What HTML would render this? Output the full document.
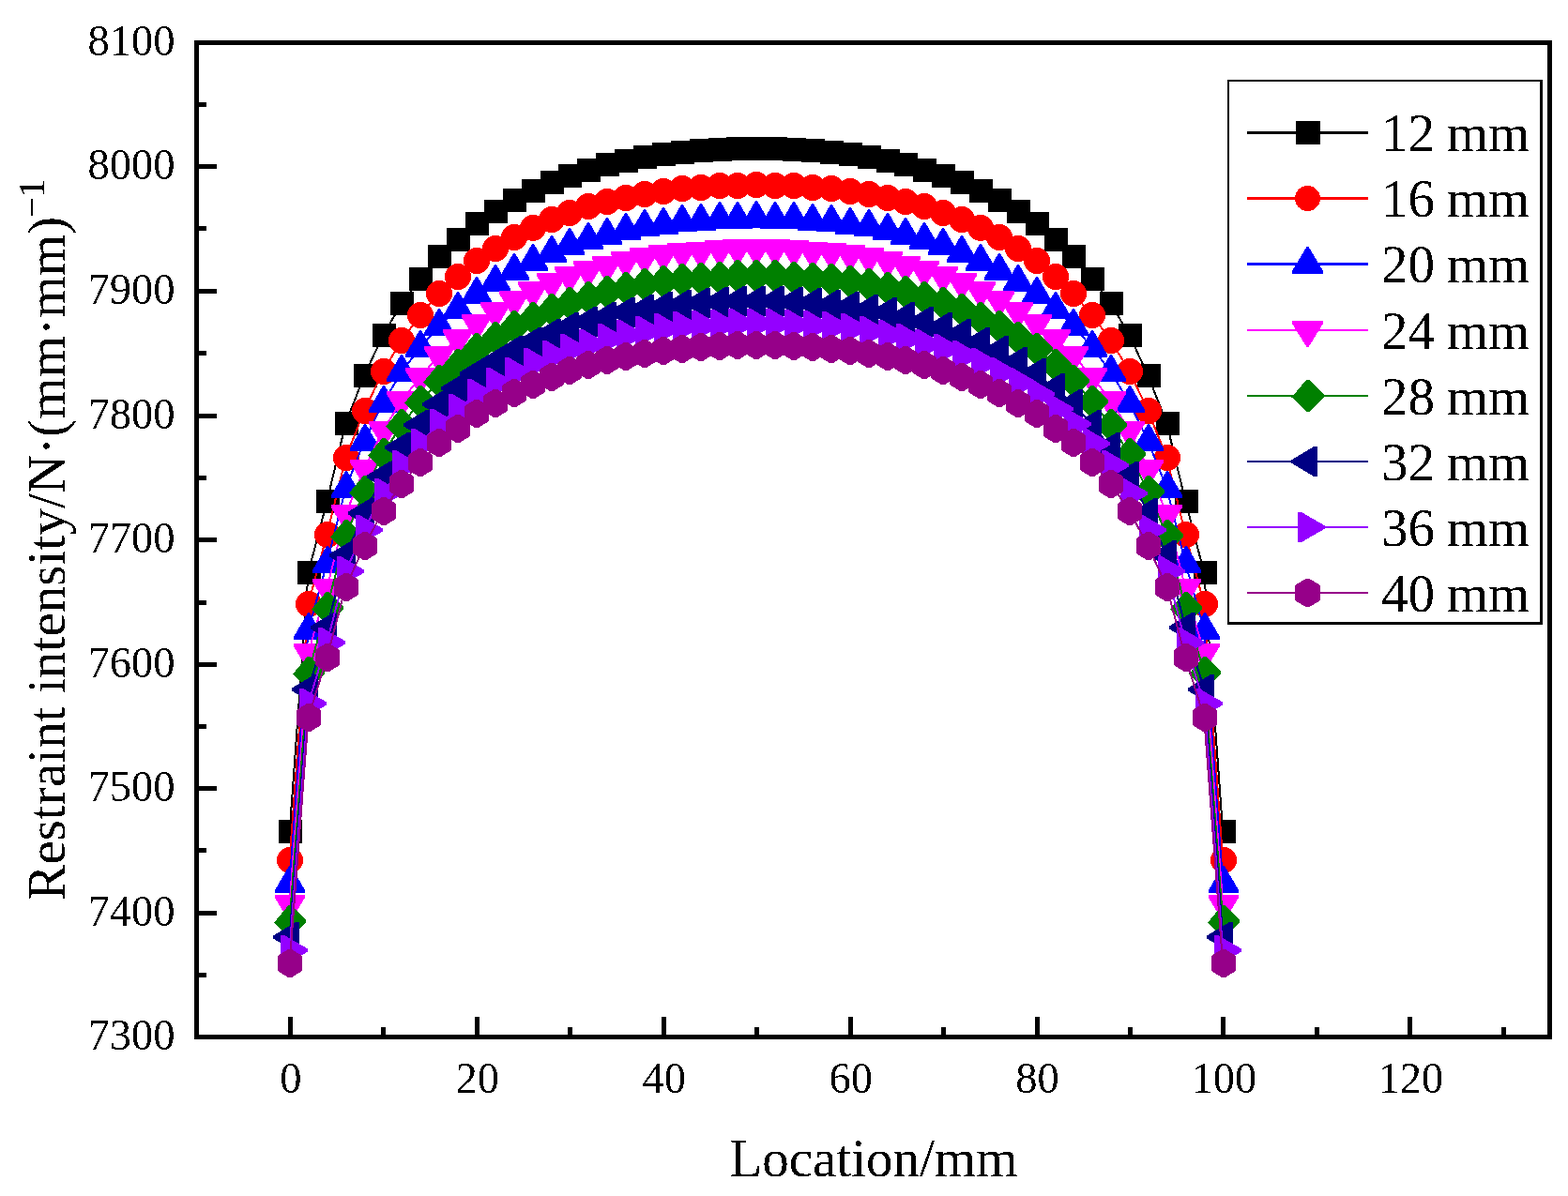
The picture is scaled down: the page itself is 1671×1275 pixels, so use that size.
<!DOCTYPE html>
<html lang="en">
<head>
<meta charset="utf-8">
<title>Restraint intensity vs. location</title>
<style>
html,body{margin:0;padding:0;background:#fff;}
body{width:1671px;height:1275px;overflow:hidden;}
svg{display:block;}
text{font-family:"Liberation Serif","Times New Roman",serif;fill:#000;font-kerning:none;font-variant-ligatures:none;}
.tick{font-size:46.5px;}
.ttl{font-size:57px;}
.leg{font-size:57px;}
.ln{fill:none;stroke-width:2;stroke-linejoin:round;stroke-linecap:butt;}
</style>
</head>
<body>
<svg width="1671" height="1275" viewBox="0 0 1671 1275">
<rect width="1671" height="1275" fill="#fff"/>
<defs><filter id="bin" filterUnits="userSpaceOnUse" x="0" y="0" width="1671" height="1275" color-interpolation-filters="sRGB"><feComponentTransfer><feFuncA type="discrete" tableValues="0 1"/></feComponentTransfer></filter></defs>
<g shape-rendering="crispEdges">
<polyline class="ln" stroke="#000000" points="308.65,886.5 328.54,610.5 348.43,534.5 368.32,451.5 388.21,400.5 408.1,357.5 427.99,323.5 447.88,297.5 467.77,273.5 487.66,255.5 507.54,238.5 527.43,225.5 547.32,213.5 567.21,203.5 587.1,194.5 606.99,187.5 626.88,181.5 646.77,175.5 666.66,171.5 686.55,167.5 706.44,164.5 726.33,162.5 746.22,160.5 766.11,159.5 786,158.5 805.89,158.5 825.78,158.5 845.67,159.5 865.56,160.5 885.45,162.5 905.34,164.5 925.23,167.5 945.12,171.5 965.01,175.5 984.9,181.5 1004.79,187.5 1024.68,194.5 1044.57,203.5 1064.46,213.5 1084.34,225.5 1104.23,238.5 1124.12,255.5 1144.01,273.5 1163.9,297.5 1183.79,323.5 1203.68,357.5 1223.57,400.5 1243.46,451.5 1263.35,534.5 1283.24,610.5 1303.13,886.5"/>
<g fill="#000000">
<path d="M297 874h25v25h-25zM317 598h25v25h-25zM337 522h25v25h-25zM357 439h25v25h-25zM377 388h25v25h-25zM397 345h25v25h-25zM416 311h25v25h-25zM436 285h25v25h-25zM456 261h25v25h-25zM476 243h25v25h-25zM496 226h25v25h-25zM516 213h25v25h-25zM536 201h25v25h-25zM556 191h25v25h-25zM576 182h25v25h-25zM595 175h25v25h-25zM615 169h25v25h-25zM635 163h25v25h-25zM655 159h25v25h-25zM675 155h25v25h-25zM695 152h25v25h-25zM715 150h25v25h-25zM735 148h25v25h-25zM755 147h25v25h-25zM774 146h25v25h-25zM794 146h25v25h-25zM814 146h25v25h-25zM834 147h25v25h-25zM854 148h25v25h-25zM874 150h25v25h-25zM894 152h25v25h-25zM914 155h25v25h-25zM934 159h25v25h-25zM953 163h25v25h-25zM973 169h25v25h-25zM993 175h25v25h-25zM1013 182h25v25h-25zM1033 191h25v25h-25zM1053 201h25v25h-25zM1073 213h25v25h-25zM1093 226h25v25h-25zM1113 243h25v25h-25zM1132 261h25v25h-25zM1152 285h25v25h-25zM1172 311h25v25h-25zM1192 345h25v25h-25zM1212 388h25v25h-25zM1232 439h25v25h-25zM1252 522h25v25h-25zM1272 598h25v25h-25zM1292 874h25v25h-25z"/>
</g>
<polyline class="ln" stroke="#ff0000" points="308.65,917 328.54,644 348.43,570 368.32,488 388.21,438 408.1,396 427.99,363 447.88,336 467.77,313 487.66,295 507.54,278 527.43,265 547.32,253 567.21,243 587.1,234 606.99,227 626.88,220 646.77,215 666.66,211 686.55,207 706.44,204 726.33,201 746.22,200 766.11,198 786,198 805.89,197 825.78,198 845.67,198 865.56,200 885.45,201 905.34,204 925.23,207 945.12,211 965.01,215 984.9,220 1004.79,227 1024.68,234 1044.57,243 1064.46,253 1084.34,265 1104.23,278 1124.12,295 1144.01,313 1163.9,336 1183.79,363 1203.68,396 1223.57,438 1243.46,488 1263.35,570 1283.24,644 1303.13,917"/>
<g fill="#ff0000">
<circle cx="309" cy="917" r="14"/><circle cx="329" cy="644" r="14"/><circle cx="349" cy="570" r="14"/><circle cx="369" cy="488" r="14"/><circle cx="389" cy="438" r="14"/><circle cx="409" cy="396" r="14"/><circle cx="428" cy="363" r="14"/><circle cx="448" cy="336" r="14"/><circle cx="468" cy="313" r="14"/><circle cx="488" cy="295" r="14"/><circle cx="508" cy="278" r="14"/><circle cx="528" cy="265" r="14"/><circle cx="548" cy="253" r="14"/><circle cx="568" cy="243" r="14"/><circle cx="588" cy="234" r="14"/><circle cx="607" cy="227" r="14"/><circle cx="627" cy="220" r="14"/><circle cx="647" cy="215" r="14"/><circle cx="667" cy="211" r="14"/><circle cx="687" cy="207" r="14"/><circle cx="707" cy="204" r="14"/><circle cx="727" cy="201" r="14"/><circle cx="747" cy="200" r="14"/><circle cx="767" cy="198" r="14"/><circle cx="786" cy="198" r="14"/><circle cx="806" cy="197" r="14"/><circle cx="826" cy="198" r="14"/><circle cx="846" cy="198" r="14"/><circle cx="866" cy="200" r="14"/><circle cx="886" cy="201" r="14"/><circle cx="906" cy="204" r="14"/><circle cx="926" cy="207" r="14"/><circle cx="946" cy="211" r="14"/><circle cx="965" cy="215" r="14"/><circle cx="985" cy="220" r="14"/><circle cx="1005" cy="227" r="14"/><circle cx="1025" cy="234" r="14"/><circle cx="1045" cy="243" r="14"/><circle cx="1065" cy="253" r="14"/><circle cx="1085" cy="265" r="14"/><circle cx="1105" cy="278" r="14"/><circle cx="1125" cy="295" r="14"/><circle cx="1144" cy="313" r="14"/><circle cx="1164" cy="336" r="14"/><circle cx="1184" cy="363" r="14"/><circle cx="1204" cy="396" r="14"/><circle cx="1224" cy="438" r="14"/><circle cx="1244" cy="488" r="14"/><circle cx="1264" cy="570" r="14"/><circle cx="1284" cy="644" r="14"/><circle cx="1304" cy="917" r="14"/>
</g>
<polyline class="ln" stroke="#0000ff" points="308.65,941.5 328.54,671.5 348.43,600.5 368.32,520.5 388.21,470.5 408.1,429.5 427.99,396.5 447.88,370.5 467.77,347.5 487.66,329.5 507.54,313.5 527.43,300.5 547.32,288.5 567.21,278.5 587.1,269.5 606.99,261.5 626.88,255.5 646.77,250.5 666.66,245.5 686.55,241.5 706.44,239.5 726.33,236.5 746.22,235.5 766.11,233.5 786,233.5 805.89,232.5 825.78,233.5 845.67,233.5 865.56,235.5 885.45,236.5 905.34,239.5 925.23,241.5 945.12,245.5 965.01,250.5 984.9,255.5 1004.79,261.5 1024.68,269.5 1044.57,278.5 1064.46,288.5 1084.34,300.5 1104.23,313.5 1124.12,329.5 1144.01,347.5 1163.9,370.5 1183.79,396.5 1203.68,429.5 1223.57,470.5 1243.46,520.5 1263.35,600.5 1283.24,671.5 1303.13,941.5"/>
<g fill="#0000ff">
<path d="M308 923h2L325 949v3h-32v-3zM328 653h2L345 679v3h-32v-3zM348 582h2L365 608v3h-32v-3zM368 502h2L385 528v3h-32v-3zM388 452h2L405 478v3h-32v-3zM408 411h2L425 437v3h-32v-3zM427 378h2L444 404v3h-32v-3zM447 352h2L464 378v3h-32v-3zM467 329h2L484 355v3h-32v-3zM487 311h2L504 337v3h-32v-3zM507 295h2L524 321v3h-32v-3zM527 282h2L544 308v3h-32v-3zM547 270h2L564 296v3h-32v-3zM567 260h2L584 286v3h-32v-3zM587 251h2L604 277v3h-32v-3zM606 243h2L623 269v3h-32v-3zM626 237h2L643 263v3h-32v-3zM646 232h2L663 258v3h-32v-3zM666 227h2L683 253v3h-32v-3zM686 223h2L703 249v3h-32v-3zM706 221h2L723 247v3h-32v-3zM726 218h2L743 244v3h-32v-3zM746 217h2L763 243v3h-32v-3zM766 215h2L783 241v3h-32v-3zM785 215h2L802 241v3h-32v-3zM805 214h2L822 240v3h-32v-3zM825 215h2L842 241v3h-32v-3zM845 215h2L862 241v3h-32v-3zM865 217h2L882 243v3h-32v-3zM885 218h2L902 244v3h-32v-3zM905 221h2L922 247v3h-32v-3zM925 223h2L942 249v3h-32v-3zM945 227h2L962 253v3h-32v-3zM964 232h2L981 258v3h-32v-3zM984 237h2L1001 263v3h-32v-3zM1004 243h2L1021 269v3h-32v-3zM1024 251h2L1041 277v3h-32v-3zM1044 260h2L1061 286v3h-32v-3zM1064 270h2L1081 296v3h-32v-3zM1084 282h2L1101 308v3h-32v-3zM1104 295h2L1121 321v3h-32v-3zM1124 311h2L1141 337v3h-32v-3zM1143 329h2L1160 355v3h-32v-3zM1163 352h2L1180 378v3h-32v-3zM1183 378h2L1200 404v3h-32v-3zM1203 411h2L1220 437v3h-32v-3zM1223 452h2L1240 478v3h-32v-3zM1243 502h2L1260 528v3h-32v-3zM1263 582h2L1280 608v3h-32v-3zM1283 653h2L1300 679v3h-32v-3zM1303 923h2L1320 949v3h-32v-3z"/>
</g>
<polyline class="ln" stroke="#ff00ff" points="308.65,964 328.54,696 348.43,627 368.32,548 388.21,500 408.1,459 427.99,427 447.88,402 467.77,379 487.66,361 507.54,345 527.43,332 547.32,320 567.21,310 587.1,301 606.99,294 626.88,288 646.77,283 666.66,278 686.55,274 706.44,271 726.33,269 746.22,268 766.11,266 786,265 805.89,265 825.78,265 845.67,266 865.56,268 885.45,269 905.34,271 925.23,274 945.12,278 965.01,283 984.9,288 1004.79,294 1024.68,301 1044.57,310 1064.46,320 1084.34,332 1104.23,345 1124.12,361 1144.01,379 1163.9,402 1183.79,427 1203.68,459 1223.57,500 1243.46,548 1263.35,627 1283.24,696 1303.13,964"/>
<g fill="#ff00ff">
<path d="M293 954h32v3L310 982h-2L293 957zM313 686h32v3L330 714h-2L313 689zM333 617h32v3L350 645h-2L333 620zM353 538h32v3L370 566h-2L353 541zM373 490h32v3L390 518h-2L373 493zM393 449h32v3L410 477h-2L393 452zM412 417h32v3L429 445h-2L412 420zM432 392h32v3L449 420h-2L432 395zM452 369h32v3L469 397h-2L452 372zM472 351h32v3L489 379h-2L472 354zM492 335h32v3L509 363h-2L492 338zM512 322h32v3L529 350h-2L512 325zM532 310h32v3L549 338h-2L532 313zM552 300h32v3L569 328h-2L552 303zM572 291h32v3L589 319h-2L572 294zM591 284h32v3L608 312h-2L591 287zM611 278h32v3L628 306h-2L611 281zM631 273h32v3L648 301h-2L631 276zM651 268h32v3L668 296h-2L651 271zM671 264h32v3L688 292h-2L671 267zM691 261h32v3L708 289h-2L691 264zM711 259h32v3L728 287h-2L711 262zM731 258h32v3L748 286h-2L731 261zM751 256h32v3L768 284h-2L751 259zM770 255h32v3L787 283h-2L770 258zM790 255h32v3L807 283h-2L790 258zM810 255h32v3L827 283h-2L810 258zM830 256h32v3L847 284h-2L830 259zM850 258h32v3L867 286h-2L850 261zM870 259h32v3L887 287h-2L870 262zM890 261h32v3L907 289h-2L890 264zM910 264h32v3L927 292h-2L910 267zM930 268h32v3L947 296h-2L930 271zM949 273h32v3L966 301h-2L949 276zM969 278h32v3L986 306h-2L969 281zM989 284h32v3L1006 312h-2L989 287zM1009 291h32v3L1026 319h-2L1009 294zM1029 300h32v3L1046 328h-2L1029 303zM1049 310h32v3L1066 338h-2L1049 313zM1069 322h32v3L1086 350h-2L1069 325zM1089 335h32v3L1106 363h-2L1089 338zM1109 351h32v3L1126 379h-2L1109 354zM1128 369h32v3L1145 397h-2L1128 372zM1148 392h32v3L1165 420h-2L1148 395zM1168 417h32v3L1185 445h-2L1168 420zM1188 449h32v3L1205 477h-2L1188 452zM1208 490h32v3L1225 518h-2L1208 493zM1228 538h32v3L1245 566h-2L1228 541zM1248 617h32v3L1265 645h-2L1248 620zM1268 686h32v3L1285 714h-2L1268 689zM1288 954h32v3L1305 982h-2L1288 957z"/>
</g>
<polyline class="ln" stroke="#008000" points="308.65,982 328.54,717 348.43,648 368.32,571 388.21,524 408.1,484 427.99,453 447.88,428 467.77,406 487.66,389 507.54,372 527.43,360 547.32,348 567.21,339 587.1,330 606.99,323 626.88,317 646.77,311 666.66,307 686.55,303 706.44,300 726.33,298 746.22,297 766.11,296 786,294 805.89,294 825.78,294 845.67,296 865.56,297 885.45,298 905.34,300 925.23,303 945.12,307 965.01,311 984.9,317 1004.79,323 1024.68,330 1044.57,339 1064.46,348 1084.34,360 1104.23,372 1124.12,389 1144.01,406 1163.9,428 1183.79,453 1203.68,484 1223.57,524 1243.46,571 1263.35,648 1283.24,717 1303.13,982"/>
<g fill="#008000">
<path d="M307.5 965h3L326 980.5v3L310.5 999h-3L292 983.5zM327.5 700h3L346 715.5v3L330.5 734h-3L312 718.5zM347.5 631h3L366 646.5v3L350.5 665h-3L332 649.5zM367.5 554h3L386 569.5v3L370.5 588h-3L352 572.5zM387.5 507h3L406 522.5v3L390.5 541h-3L372 525.5zM407.5 467h3L426 482.5v3L410.5 501h-3L392 485.5zM426.5 436h3L445 451.5v3L429.5 470h-3L411 454.5zM446.5 411h3L465 426.5v3L449.5 445h-3L431 429.5zM466.5 389h3L485 404.5v3L469.5 423h-3L451 407.5zM486.5 372h3L505 387.5v3L489.5 406h-3L471 390.5zM506.5 355h3L525 370.5v3L509.5 389h-3L491 373.5zM526.5 343h3L545 358.5v3L529.5 377h-3L511 361.5zM546.5 331h3L565 346.5v3L549.5 365h-3L531 349.5zM566.5 322h3L585 337.5v3L569.5 356h-3L551 340.5zM586.5 313h3L605 328.5v3L589.5 347h-3L571 331.5zM605.5 306h3L624 321.5v3L608.5 340h-3L590 324.5zM625.5 300h3L644 315.5v3L628.5 334h-3L610 318.5zM645.5 294h3L664 309.5v3L648.5 328h-3L630 312.5zM665.5 290h3L684 305.5v3L668.5 324h-3L650 308.5zM685.5 286h3L704 301.5v3L688.5 320h-3L670 304.5zM705.5 283h3L724 298.5v3L708.5 317h-3L690 301.5zM725.5 281h3L744 296.5v3L728.5 315h-3L710 299.5zM745.5 280h3L764 295.5v3L748.5 314h-3L730 298.5zM765.5 279h3L784 294.5v3L768.5 313h-3L750 297.5zM784.5 277h3L803 292.5v3L787.5 311h-3L769 295.5zM804.5 277h3L823 292.5v3L807.5 311h-3L789 295.5zM824.5 277h3L843 292.5v3L827.5 311h-3L809 295.5zM844.5 279h3L863 294.5v3L847.5 313h-3L829 297.5zM864.5 280h3L883 295.5v3L867.5 314h-3L849 298.5zM884.5 281h3L903 296.5v3L887.5 315h-3L869 299.5zM904.5 283h3L923 298.5v3L907.5 317h-3L889 301.5zM924.5 286h3L943 301.5v3L927.5 320h-3L909 304.5zM944.5 290h3L963 305.5v3L947.5 324h-3L929 308.5zM963.5 294h3L982 309.5v3L966.5 328h-3L948 312.5zM983.5 300h3L1002 315.5v3L986.5 334h-3L968 318.5zM1003.5 306h3L1022 321.5v3L1006.5 340h-3L988 324.5zM1023.5 313h3L1042 328.5v3L1026.5 347h-3L1008 331.5zM1043.5 322h3L1062 337.5v3L1046.5 356h-3L1028 340.5zM1063.5 331h3L1082 346.5v3L1066.5 365h-3L1048 349.5zM1083.5 343h3L1102 358.5v3L1086.5 377h-3L1068 361.5zM1103.5 355h3L1122 370.5v3L1106.5 389h-3L1088 373.5zM1123.5 372h3L1142 387.5v3L1126.5 406h-3L1108 390.5zM1142.5 389h3L1161 404.5v3L1145.5 423h-3L1127 407.5zM1162.5 411h3L1181 426.5v3L1165.5 445h-3L1147 429.5zM1182.5 436h3L1201 451.5v3L1185.5 470h-3L1167 454.5zM1202.5 467h3L1221 482.5v3L1205.5 501h-3L1187 485.5zM1222.5 507h3L1241 522.5v3L1225.5 541h-3L1207 525.5zM1242.5 554h3L1261 569.5v3L1245.5 588h-3L1227 572.5zM1262.5 631h3L1281 646.5v3L1265.5 665h-3L1247 649.5zM1282.5 700h3L1301 715.5v3L1285.5 734h-3L1267 718.5zM1302.5 965h3L1321 980.5v3L1305.5 999h-3L1287 983.5z"/>
</g>
<polyline class="ln" stroke="#000084" points="308.65,999 328.54,735 348.43,669 368.32,592 388.21,547 408.1,508 427.99,477 447.88,453 467.77,431 487.66,414 507.54,398 527.43,386 547.32,374 567.21,365 587.1,356 606.99,349 626.88,343 646.77,338 666.66,333 686.55,330 706.44,327 726.33,325 746.22,323 766.11,322 786,321 805.89,321 825.78,321 845.67,322 865.56,323 885.45,325 905.34,327 925.23,330 945.12,333 965.01,338 984.9,343 1004.79,349 1024.68,356 1044.57,365 1064.46,374 1084.34,386 1104.23,398 1124.12,414 1144.01,431 1163.9,453 1183.79,477 1203.68,508 1223.57,547 1243.46,592 1263.35,669 1283.24,735 1303.13,999"/>
<g fill="#000084">
<path d="M291 997.5L315 983h4v32h-4L291 1000.5zM311 733.5L335 719h4v32h-4L311 736.5zM331 667.5L355 653h4v32h-4L331 670.5zM351 590.5L375 576h4v32h-4L351 593.5zM371 545.5L395 531h4v32h-4L371 548.5zM391 506.5L415 492h4v32h-4L391 509.5zM410 475.5L434 461h4v32h-4L410 478.5zM430 451.5L454 437h4v32h-4L430 454.5zM450 429.5L474 415h4v32h-4L450 432.5zM470 412.5L494 398h4v32h-4L470 415.5zM490 396.5L514 382h4v32h-4L490 399.5zM510 384.5L534 370h4v32h-4L510 387.5zM530 372.5L554 358h4v32h-4L530 375.5zM550 363.5L574 349h4v32h-4L550 366.5zM570 354.5L594 340h4v32h-4L570 357.5zM589 347.5L613 333h4v32h-4L589 350.5zM609 341.5L633 327h4v32h-4L609 344.5zM629 336.5L653 322h4v32h-4L629 339.5zM649 331.5L673 317h4v32h-4L649 334.5zM669 328.5L693 314h4v32h-4L669 331.5zM689 325.5L713 311h4v32h-4L689 328.5zM709 323.5L733 309h4v32h-4L709 326.5zM729 321.5L753 307h4v32h-4L729 324.5zM749 320.5L773 306h4v32h-4L749 323.5zM768 319.5L792 305h4v32h-4L768 322.5zM788 319.5L812 305h4v32h-4L788 322.5zM808 319.5L832 305h4v32h-4L808 322.5zM828 320.5L852 306h4v32h-4L828 323.5zM848 321.5L872 307h4v32h-4L848 324.5zM868 323.5L892 309h4v32h-4L868 326.5zM888 325.5L912 311h4v32h-4L888 328.5zM908 328.5L932 314h4v32h-4L908 331.5zM928 331.5L952 317h4v32h-4L928 334.5zM947 336.5L971 322h4v32h-4L947 339.5zM967 341.5L991 327h4v32h-4L967 344.5zM987 347.5L1011 333h4v32h-4L987 350.5zM1007 354.5L1031 340h4v32h-4L1007 357.5zM1027 363.5L1051 349h4v32h-4L1027 366.5zM1047 372.5L1071 358h4v32h-4L1047 375.5zM1067 384.5L1091 370h4v32h-4L1067 387.5zM1087 396.5L1111 382h4v32h-4L1087 399.5zM1107 412.5L1131 398h4v32h-4L1107 415.5zM1126 429.5L1150 415h4v32h-4L1126 432.5zM1146 451.5L1170 437h4v32h-4L1146 454.5zM1166 475.5L1190 461h4v32h-4L1166 478.5zM1186 506.5L1210 492h4v32h-4L1186 509.5zM1206 545.5L1230 531h4v32h-4L1206 548.5zM1226 590.5L1250 576h4v32h-4L1226 593.5zM1246 667.5L1270 653h4v32h-4L1246 670.5zM1266 733.5L1290 719h4v32h-4L1266 736.5zM1286 997.5L1310 983h4v32h-4L1286 1000.5z"/>
</g>
<polyline class="ln" stroke="#9400ff" points="308.65,1013 328.54,750 348.43,685 368.32,609 388.21,565 408.1,526 427.99,496 447.88,473 467.77,452 487.66,436 507.54,420 527.43,408 547.32,397 567.21,387 587.1,379 606.99,372 626.88,367 646.77,361 666.66,357 686.55,353 706.44,350 726.33,348 746.22,347 766.11,346 786,345 805.89,345 825.78,345 845.67,346 865.56,347 885.45,348 905.34,350 925.23,353 945.12,357 965.01,361 984.9,367 1004.79,372 1024.68,379 1044.57,387 1064.46,397 1084.34,408 1104.23,420 1124.12,436 1144.01,452 1163.9,473 1183.79,496 1203.68,526 1223.57,565 1243.46,609 1263.35,685 1283.24,750 1303.13,1013"/>
<g fill="#9400ff">
<path d="M328 1011.5L303 997h-4v32h4L328 1014.5zM348 748.5L323 734h-4v32h4L348 751.5zM368 683.5L343 669h-4v32h4L368 686.5zM388 607.5L363 593h-4v32h4L388 610.5zM408 563.5L383 549h-4v32h4L408 566.5zM428 524.5L403 510h-4v32h4L428 527.5zM447 494.5L422 480h-4v32h4L447 497.5zM467 471.5L442 457h-4v32h4L467 474.5zM487 450.5L462 436h-4v32h4L487 453.5zM507 434.5L482 420h-4v32h4L507 437.5zM527 418.5L502 404h-4v32h4L527 421.5zM547 406.5L522 392h-4v32h4L547 409.5zM567 395.5L542 381h-4v32h4L567 398.5zM587 385.5L562 371h-4v32h4L587 388.5zM607 377.5L582 363h-4v32h4L607 380.5zM626 370.5L601 356h-4v32h4L626 373.5zM646 365.5L621 351h-4v32h4L646 368.5zM666 359.5L641 345h-4v32h4L666 362.5zM686 355.5L661 341h-4v32h4L686 358.5zM706 351.5L681 337h-4v32h4L706 354.5zM726 348.5L701 334h-4v32h4L726 351.5zM746 346.5L721 332h-4v32h4L746 349.5zM766 345.5L741 331h-4v32h4L766 348.5zM786 344.5L761 330h-4v32h4L786 347.5zM805 343.5L780 329h-4v32h4L805 346.5zM825 343.5L800 329h-4v32h4L825 346.5zM845 343.5L820 329h-4v32h4L845 346.5zM865 344.5L840 330h-4v32h4L865 347.5zM885 345.5L860 331h-4v32h4L885 348.5zM905 346.5L880 332h-4v32h4L905 349.5zM925 348.5L900 334h-4v32h4L925 351.5zM945 351.5L920 337h-4v32h4L945 354.5zM965 355.5L940 341h-4v32h4L965 358.5zM984 359.5L959 345h-4v32h4L984 362.5zM1004 365.5L979 351h-4v32h4L1004 368.5zM1024 370.5L999 356h-4v32h4L1024 373.5zM1044 377.5L1019 363h-4v32h4L1044 380.5zM1064 385.5L1039 371h-4v32h4L1064 388.5zM1084 395.5L1059 381h-4v32h4L1084 398.5zM1104 406.5L1079 392h-4v32h4L1104 409.5zM1124 418.5L1099 404h-4v32h4L1124 421.5zM1144 434.5L1119 420h-4v32h4L1144 437.5zM1163 450.5L1138 436h-4v32h4L1163 453.5zM1183 471.5L1158 457h-4v32h4L1183 474.5zM1203 494.5L1178 480h-4v32h4L1203 497.5zM1223 524.5L1198 510h-4v32h4L1223 527.5zM1243 563.5L1218 549h-4v32h4L1243 566.5zM1263 607.5L1238 593h-4v32h4L1263 610.5zM1283 683.5L1258 669h-4v32h4L1283 686.5zM1303 748.5L1278 734h-4v32h4L1303 751.5zM1323 1011.5L1298 997h-4v32h4L1323 1014.5z"/>
</g>
<polyline class="ln" stroke="#960089" points="308.65,1027 328.54,765 348.43,701 368.32,626 388.21,582 408.1,545 427.99,516 447.88,493 467.77,472 487.66,457 507.54,441 527.43,430 547.32,419 567.21,410 587.1,402 606.99,395 626.88,389 646.77,384 666.66,380 686.55,377 706.44,374 726.33,372 746.22,370 766.11,369 786,368 805.89,368 825.78,368 845.67,369 865.56,370 885.45,372 905.34,374 925.23,377 945.12,380 965.01,384 984.9,389 1004.79,395 1024.68,402 1044.57,410 1064.46,419 1084.34,430 1104.23,441 1124.12,457 1144.01,472 1163.9,493 1183.79,516 1203.68,545 1223.57,582 1243.46,626 1263.35,701 1283.24,765 1303.13,1027"/>
<g fill="#960089">
<path d="M307 1012h4L322 1019v16L311 1042h-4L296 1035v-16zM327 750h4L342 757v16L331 780h-4L316 773v-16zM347 686h4L362 693v16L351 716h-4L336 709v-16zM367 611h4L382 618v16L371 641h-4L356 634v-16zM387 567h4L402 574v16L391 597h-4L376 590v-16zM407 530h4L422 537v16L411 560h-4L396 553v-16zM426 501h4L441 508v16L430 531h-4L415 524v-16zM446 478h4L461 485v16L450 508h-4L435 501v-16zM466 457h4L481 464v16L470 487h-4L455 480v-16zM486 442h4L501 449v16L490 472h-4L475 465v-16zM506 426h4L521 433v16L510 456h-4L495 449v-16zM526 415h4L541 422v16L530 445h-4L515 438v-16zM546 404h4L561 411v16L550 434h-4L535 427v-16zM566 395h4L581 402v16L570 425h-4L555 418v-16zM586 387h4L601 394v16L590 417h-4L575 410v-16zM605 380h4L620 387v16L609 410h-4L594 403v-16zM625 374h4L640 381v16L629 404h-4L614 397v-16zM645 369h4L660 376v16L649 399h-4L634 392v-16zM665 365h4L680 372v16L669 395h-4L654 388v-16zM685 362h4L700 369v16L689 392h-4L674 385v-16zM705 359h4L720 366v16L709 389h-4L694 382v-16zM725 357h4L740 364v16L729 387h-4L714 380v-16zM745 355h4L760 362v16L749 385h-4L734 378v-16zM765 354h4L780 361v16L769 384h-4L754 377v-16zM784 353h4L799 360v16L788 383h-4L773 376v-16zM804 353h4L819 360v16L808 383h-4L793 376v-16zM824 353h4L839 360v16L828 383h-4L813 376v-16zM844 354h4L859 361v16L848 384h-4L833 377v-16zM864 355h4L879 362v16L868 385h-4L853 378v-16zM884 357h4L899 364v16L888 387h-4L873 380v-16zM904 359h4L919 366v16L908 389h-4L893 382v-16zM924 362h4L939 369v16L928 392h-4L913 385v-16zM944 365h4L959 372v16L948 395h-4L933 388v-16zM963 369h4L978 376v16L967 399h-4L952 392v-16zM983 374h4L998 381v16L987 404h-4L972 397v-16zM1003 380h4L1018 387v16L1007 410h-4L992 403v-16zM1023 387h4L1038 394v16L1027 417h-4L1012 410v-16zM1043 395h4L1058 402v16L1047 425h-4L1032 418v-16zM1063 404h4L1078 411v16L1067 434h-4L1052 427v-16zM1083 415h4L1098 422v16L1087 445h-4L1072 438v-16zM1103 426h4L1118 433v16L1107 456h-4L1092 449v-16zM1123 442h4L1138 449v16L1127 472h-4L1112 465v-16zM1142 457h4L1157 464v16L1146 487h-4L1131 480v-16zM1162 478h4L1177 485v16L1166 508h-4L1151 501v-16zM1182 501h4L1197 508v16L1186 531h-4L1171 524v-16zM1202 530h4L1217 537v16L1206 560h-4L1191 553v-16zM1222 567h4L1237 574v16L1226 597h-4L1211 590v-16zM1242 611h4L1257 618v16L1246 641h-4L1231 634v-16zM1262 686h4L1277 693v16L1266 716h-4L1251 709v-16zM1282 750h4L1297 757v16L1286 780h-4L1271 773v-16zM1302 1012h4L1317 1019v16L1306 1042h-4L1291 1035v-16z"/>
</g>
</g>
<g shape-rendering="crispEdges" fill="#000">
<path fill-rule="evenodd" d="M207 43h1447v1065h-1447zM212 48v1055h1437v-1055z"/>
<path d="M307 1084h5v19h-5zM406 1095h5v8h-5zM506 1084h5v19h-5zM605 1095h5v8h-5zM705 1084h5v19h-5zM804 1095h5v8h-5zM904 1084h5v19h-5zM1003 1095h5v8h-5zM1103 1084h5v19h-5zM1202 1095h5v8h-5zM1301 1084h5v19h-5zM1401 1095h5v8h-5zM1500 1084h5v19h-5zM1600 1095h5v8h-5zM212 109h8v5h-8zM212 175h19v5h-19zM212 241h8v5h-8zM212 308h19v5h-19zM212 374h8v5h-8zM212 441h19v5h-19zM212 507h8v5h-8zM212 573h19v5h-19zM212 640h8v5h-8zM212 706h19v5h-19zM212 772h8v5h-8zM212 838h19v5h-19zM212 904h8v5h-8zM212 971h19v5h-19zM212 1037h8v5h-8z"/>
</g>
<g filter="url(#bin)">
<g class="tick" text-anchor="end">
<text x="186.5" y="59.2">8100</text>
<text x="186.5" y="191.2">8000</text>
<text x="186.5" y="324.2">7900</text>
<text x="186.5" y="457.2">7800</text>
<text x="186.5" y="589.2">7700</text>
<text x="186.5" y="722.2">7600</text>
<text x="186.5" y="854.2">7500</text>
<text x="186.5" y="987.2">7400</text>
<text x="186.5" y="1119.2">7300</text>
</g>
<g class="tick" text-anchor="middle">
<text x="309.95" y="1165.3">0</text>
<text x="508.84" y="1165.3">20</text>
<text x="707.74" y="1165.3">40</text>
<text x="906.64" y="1165.3">60</text>
<text x="1105.53" y="1165.3">80</text>
<text x="1304.43" y="1165.3">100</text>
<text x="1503.33" y="1165.3">120</text>
</g>
<text class="ttl" text-anchor="middle" x="931" y="1254.4">Location/mm</text>
<text class="ttl" id="yt" style="font-size:57.2px" transform="translate(68.8 959.8) rotate(-90)">Restraint intensity/N·(mm·mm)<tspan dx="-1.3 -1" dy="-22.5" style="font-size:40px">−1</tspan></text>
</g>
<g>
<path shape-rendering="crispEdges" fill-rule="evenodd" d="M1308 85h336v581h-336zM1310 87v576h331v-576z"/>
<g shape-rendering="crispEdges"><rect x="1329" y="140" width="129" height="3" fill="#000000"/><g fill="#000000"><path d="M1381 129h26v25h-26z"/></g></g>
<g shape-rendering="crispEdges"><rect x="1329" y="210" width="129" height="3" fill="#ff0000"/><g fill="#ff0000"><circle cx="1393.5" cy="211.5" r="13.5"/></g></g>
<g shape-rendering="crispEdges"><rect x="1329" y="280" width="129" height="3" fill="#0000ff"/><g fill="#0000ff"><path d="M1392.5 263h2L1410 289v3h-33v-3z"/></g></g>
<g shape-rendering="crispEdges"><rect x="1329" y="351" width="129" height="2" fill="#ff00ff"/><g fill="#ff00ff"><path d="M1377 342h33v3L1394.5 370h-2L1377 345z"/></g></g>
<g shape-rendering="crispEdges"><rect x="1329" y="421" width="129" height="2" fill="#008000"/><g fill="#008000"><path d="M1392 405h3L1410.5 420.5v3L1395 439h-3L1376.5 423.5z"/></g></g>
<g shape-rendering="crispEdges"><rect x="1329" y="491" width="129" height="2" fill="#000084"/><g fill="#000084"><path d="M1376 490.5L1400 476h4v32h-4L1376 493.5z"/></g></g>
<g shape-rendering="crispEdges"><rect x="1329" y="561" width="129" height="2" fill="#9400ff"/><g fill="#9400ff"><path d="M1412 560.5L1387 546h-4v32h4L1412 563.5z"/></g></g>
<g shape-rendering="crispEdges"><rect x="1329" y="631" width="129" height="2" fill="#960089"/><g fill="#960089"><path d="M1391.5 617h4L1407 624v16L1395.5 647h-4L1380 640v-16z"/></g></g>
</g>
<g filter="url(#bin)">
<text class="leg" x="1472" y="161">12<tspan dx="-1.5"> mm</tspan></text>
<text class="leg" x="1472" y="231">16<tspan dx="-1.5"> mm</tspan></text>
<text class="leg" x="1472" y="301">20<tspan dx="-1.5"> mm</tspan></text>
<text class="leg" x="1472" y="372">24<tspan dx="-1.5"> mm</tspan></text>
<text class="leg" x="1472" y="442">28<tspan dx="-1.5"> mm</tspan></text>
<text class="leg" x="1472" y="512">32<tspan dx="-1.5"> mm</tspan></text>
<text class="leg" x="1472" y="582">36<tspan dx="-1.5"> mm</tspan></text>
<text class="leg" x="1472" y="652">40<tspan dx="-1.5"> mm</tspan></text>
</g>
</svg>
</body>
</html>
